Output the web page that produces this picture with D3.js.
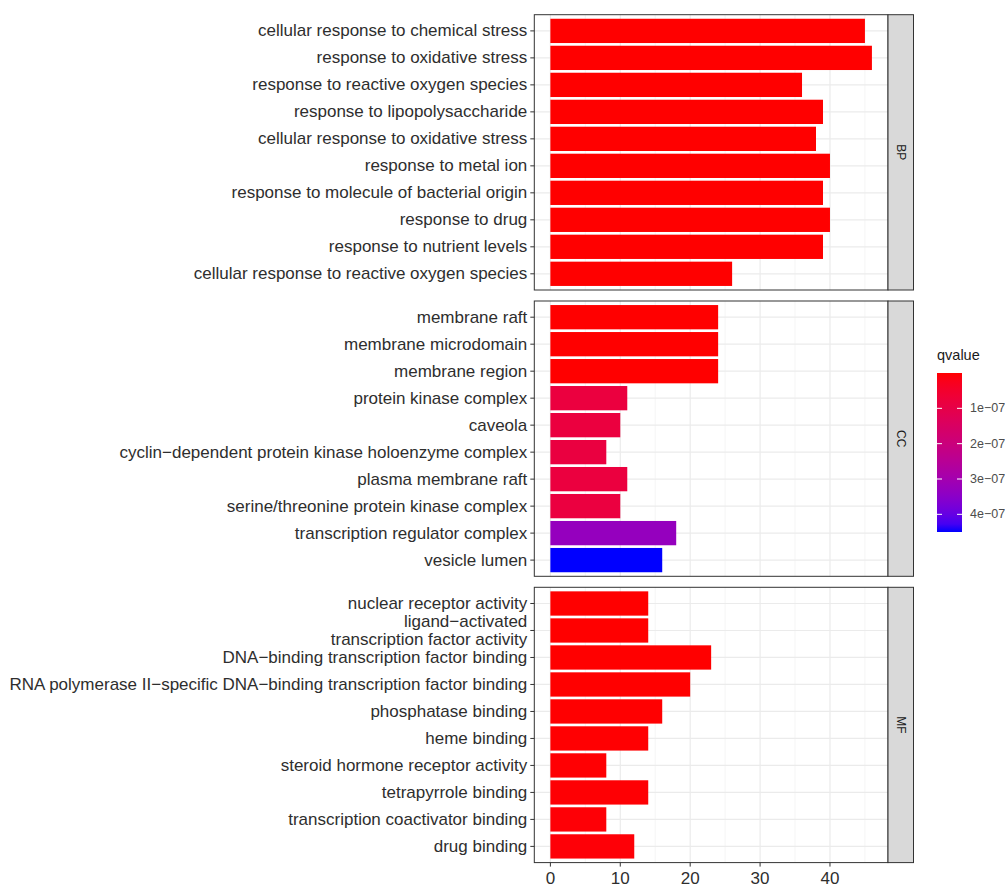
<!DOCTYPE html>
<html>
<head>
<meta charset="utf-8">
<script src="https://cdn.jsdelivr.net/npm/d3@7"></script>
<style>
  html, body { margin: 0; padding: 0; background: #fff; }
  svg { display: block; }
  text { font-family: "Liberation Sans", Arial, Helvetica, sans-serif; }
</style>
</head>
<body>
<svg id="chart" width="1005" height="888"></svg>
<script>
// GO enrichment terms, gene counts and adjusted q-values, one set per ontology
const ontologies = ["BP", "CC", "MF"];

const termsBP = [
  "cellular response to chemical stress",
  "response to oxidative stress",
  "response to reactive oxygen species",
  "response to lipopolysaccharide",
  "cellular response to oxidative stress",
  "response to metal ion",
  "response to molecule of bacterial origin",
  "response to drug",
  "response to nutrient levels",
  "cellular response to reactive oxygen species"
];
const countsBP = [45, 46, 36, 39, 38, 40, 39, 40, 39, 26];
const qvaluesBP = [2.1e-22, 3.4e-21, 1.5e-17, 6.0e-18, 1.2e-17, 4.4e-16, 2.0e-17, 1.1e-15, 3.2e-16, 5.5e-14];

const termsCC = [
  "membrane raft",
  "membrane microdomain",
  "membrane region",
  "protein kinase complex",
  "caveola",
  "cyclin\u2212dependent protein kinase holoenzyme complex",
  "plasma membrane raft",
  "serine/threonine protein kinase complex",
  "transcription regulator complex",
  "vesicle lumen"
];
const countsCC = [24, 24, 24, 11, 10, 8, 11, 10, 18, 16];
const qvaluesCC = [1.1e-10, 1.1e-10, 2.6e-10, 8.2e-8, 8.2e-8, 8.4e-8, 8.2e-8, 8.3e-8, 3.3e-7, 4.5e-7];

const termsMF = [
  "nuclear receptor activity",
  "ligand\u2212activated\ntranscription factor activity",
  "DNA\u2212binding transcription factor binding",
  "RNA polymerase II\u2212specific DNA\u2212binding transcription factor binding",
  "phosphatase binding",
  "heme binding",
  "steroid hormone receptor activity",
  "tetrapyrrole binding",
  "transcription coactivator binding",
  "drug binding"
];
const countsMF = [14, 14, 23, 20, 16, 14, 8, 14, 8, 12];
const qvaluesMF = [3.0e-12, 3.0e-12, 1.4e-11, 2.2e-10, 4.1e-10, 1.8e-9, 2.0e-9, 3.0e-9, 4.4e-9, 5.2e-9];

const xTickValues = [0, 10, 20, 30, 40];
const xMinorValues = [5, 15, 25, 35, 45];
const legendTickValues = [1e-7, 2e-7, 3e-7, 4e-7];
const legendTickLabels = ["1e\u221207", "2e\u221207", "3e\u221207", "4e\u221207"];
const legendTitle = "qvalue";

// ---- assemble panels ----
const panels = [
  { name: ontologies[0], terms: termsBP, counts: countsBP, q: qvaluesBP },
  { name: ontologies[1], terms: termsCC, counts: countsCC, q: qvaluesCC },
  { name: ontologies[2], terms: termsMF, counts: countsMF, q: qvaluesMF }
];

const allCounts = countsBP.concat(countsCC, countsMF);
const allQ = qvaluesBP.concat(qvaluesCC, qvaluesMF);

// ---- layout ----
const panelLeft = 534.3, panelRight = 888;
const stripW = 25.5;
const panelTop0 = 14.7, panelH = 275.3, panelGap = 11;

const svg = d3.select("#chart");

// continuous x with 5% expansion on both sides
const maxCount = d3.max(allCounts);
const pad = 0.05 * maxCount;
const x = d3.scaleLinear().domain([0 - pad, maxCount + pad]).range([panelLeft, panelRight]);

// colour: red (low q) to blue (high q), interpolated in Lab
const qExtent = d3.extent(allQ);
const color = d3.scaleLinear().domain(qExtent).range(["#FF0000", "#0000FF"]).interpolate(d3.interpolateLab);

const textColor = "#2E2E2E";
const labelSize = 17;

panels.forEach((p, i) => {
  const top = panelTop0 + i * (panelH + panelGap);
  const bottom = top + panelH;
  const y = d3.scaleBand().domain(p.terms).range([top, bottom]).paddingInner(0.1).paddingOuter(0.15);
  const g = svg.append("g");

  // panel background
  g.append("rect").attr("x", panelLeft).attr("y", top)
    .attr("width", panelRight - panelLeft).attr("height", panelH).attr("fill", "#fff");

  // minor vertical grid
  g.selectAll(".minor").data(xMinorValues).join("line")
    .attr("x1", d => x(d)).attr("x2", d => x(d)).attr("y1", top).attr("y2", bottom)
    .attr("stroke", "#F2F2F2").attr("stroke-width", 0.8);
  // major vertical grid
  g.selectAll(".major").data(xTickValues).join("line")
    .attr("x1", d => x(d)).attr("x2", d => x(d)).attr("y1", top).attr("y2", bottom)
    .attr("stroke", "#EBEBEB").attr("stroke-width", 1.2);
  // horizontal grid at each term
  g.selectAll(".hgrid").data(p.terms).join("line")
    .attr("x1", panelLeft).attr("x2", panelRight)
    .attr("y1", d => y(d) + y.bandwidth() / 2).attr("y2", d => y(d) + y.bandwidth() / 2)
    .attr("stroke", "#EBEBEB").attr("stroke-width", 1.2);

  // bars
  g.selectAll(".bar").data(p.terms.map((t, k) => ({ t, c: p.counts[k], q: p.q[k] }))).join("rect")
    .attr("x", x(0)).attr("y", d => y(d.t))
    .attr("width", d => x(d.c) - x(0)).attr("height", y.bandwidth())
    .attr("fill", d => color(d.q));

  // panel border
  g.append("rect").attr("x", panelLeft).attr("y", top)
    .attr("width", panelRight - panelLeft).attr("height", panelH)
    .attr("fill", "none").attr("stroke", "#333333").attr("stroke-width", 1);

  // strip
  g.append("rect").attr("x", panelRight).attr("y", top)
    .attr("width", stripW).attr("height", panelH)
    .attr("fill", "#D9D9D9").attr("stroke", "#333333").attr("stroke-width", 1);
  g.append("text")
    .attr("transform", `translate(${panelRight + stripW / 2},${top + panelH / 2}) rotate(90)`)
    .attr("text-anchor", "middle").attr("dominant-baseline", "central")
    .attr("font-size", 12).attr("fill", "#1A1A1A").text(p.name);

  // y axis ticks and labels
  const yAxis = g.append("g");
  p.terms.forEach(t => {
    const cy = y(t) + y.bandwidth() / 2;
    yAxis.append("line").attr("x1", panelLeft - 4).attr("x2", panelLeft)
      .attr("y1", cy).attr("y2", cy).attr("stroke", "#333333").attr("stroke-width", 1);
    const lines = t.split("\n");
    const lh = 18;
    lines.forEach((ln, li) => {
      yAxis.append("text")
        .attr("x", panelLeft - 7)
        .attr("y", cy + (li - (lines.length - 1) / 2) * lh)
        .attr("text-anchor", "end").attr("dominant-baseline", "central")
        .attr("font-size", labelSize).attr("fill", textColor)
        .text(ln);
    });
  });

  // x axis on the bottom panel
  if (i === panels.length - 1) {
    const xa = g.append("g");
    xTickValues.forEach(v => {
      xa.append("line").attr("x1", x(v)).attr("x2", x(v)).attr("y1", bottom).attr("y2", bottom + 4)
        .attr("stroke", "#333333").attr("stroke-width", 1);
      xa.append("text").attr("x", x(v)).attr("y", bottom + 16)
        .attr("text-anchor", "middle").attr("dominant-baseline", "central")
        .attr("font-size", labelSize).attr("fill", textColor).text(v);
    });
  }
});

// ---- colourbar legend ----
const legX = 937, legW = 25, legTop = 373, legBottom = 532;
const legY = d3.scaleLinear().domain(qExtent).range([legTop, legBottom]);

const defs = svg.append("defs");
const grad = defs.append("linearGradient").attr("id", "qgrad")
  .attr("x1", 0).attr("y1", 0).attr("x2", 0).attr("y2", 1);
d3.range(0, 1.0001, 0.05).forEach(f => {
  grad.append("stop").attr("offset", f)
    .attr("stop-color", color(qExtent[0] + f * (qExtent[1] - qExtent[0])));
});

svg.append("text").attr("x", legX).attr("y", 355)
  .attr("dominant-baseline", "central").attr("font-size", 14.5).attr("fill", "#1A1A1A")
  .text(legendTitle);
svg.append("rect").attr("x", legX).attr("y", legTop).attr("width", legW).attr("height", legBottom - legTop)
  .attr("fill", "url(#qgrad)");
legendTickValues.forEach((v, k) => {
  const yy = legY(v);
  svg.append("line").attr("x1", legX).attr("x2", legX + 5).attr("y1", yy).attr("y2", yy)
    .attr("stroke", "#fff").attr("stroke-width", 1);
  svg.append("line").attr("x1", legX + legW - 5).attr("x2", legX + legW).attr("y1", yy).attr("y2", yy)
    .attr("stroke", "#fff").attr("stroke-width", 1);
  svg.append("text").attr("x", legX + legW + 8).attr("y", yy)
    .attr("dominant-baseline", "central").attr("font-size", 12.5).attr("fill", "#4D4D4D")
    .text(legendTickLabels[k]);
});
</script>
</body>
</html>
